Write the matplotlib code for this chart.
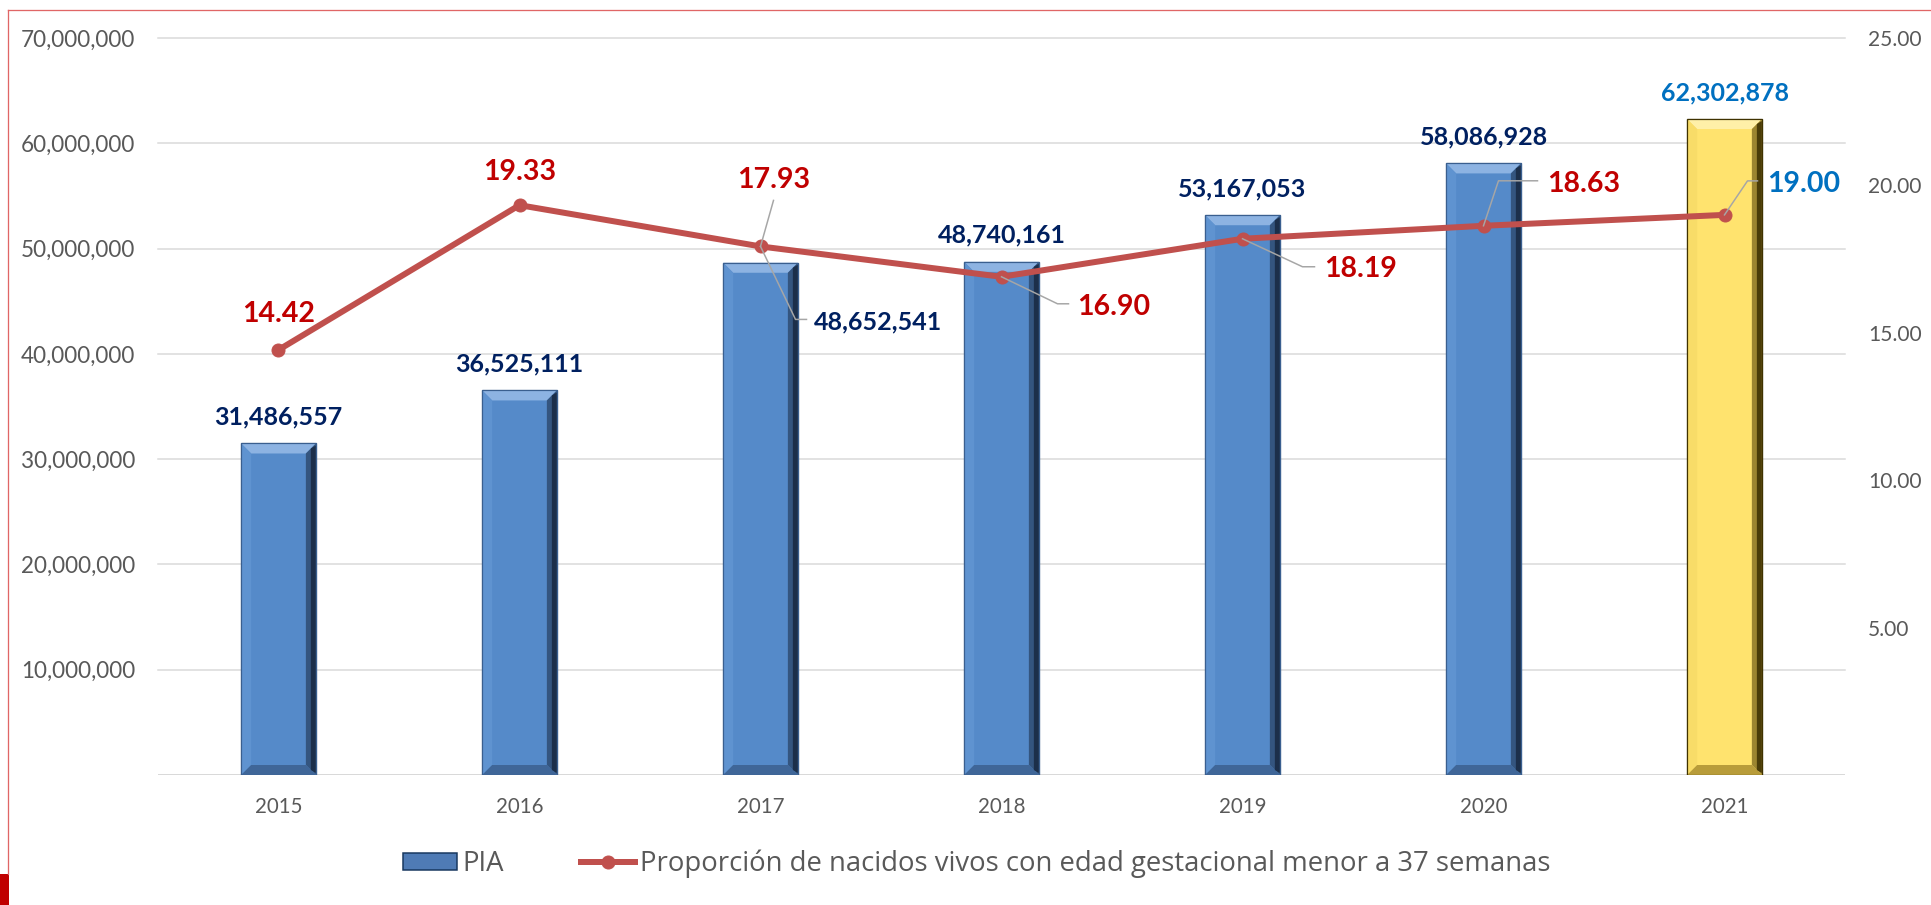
import numpy as np
import matplotlib.pyplot as plt
from matplotlib.patches import Polygon, Rectangle
from matplotlib.lines import Line2D
from matplotlib.transforms import IdentityTransform

plt.rcParams['font.family'] = ['Lato', 'DejaVu Sans']

years = ['2015', '2016', '2017', '2018', '2019', '2020', '2021']
pia = [31486557, 36525111, 48652541, 48740161, 53167053, 58086928, 62302878]
prop = [14.42, 19.33, 17.93, 16.90, 18.19, 18.63, 19.00]

W, H, DPI = 1931, 905, 72  # at 72 dpi, 1 pt == 1 px
fig = plt.figure(figsize=(W / DPI, H / DPI), dpi=DPI)
ax = fig.add_axes([158 / W, 130 / H, 1687 / W, 737 / H])

x = np.arange(len(years))
face = ['#558AC9'] * 6 + ['#FFE36E']
edge = ['#3A5F8F'] * 6 + ['#3F3200']
bars = ax.bar(x, pia, width=0.31, color=face, edgecolor=edge, linewidth=1.2, zorder=2)

ax.set_xlim(-0.5, 6.5)
ax.set_ylim(0, 70e6)
ax.set_yticks(np.arange(1e7, 7.1e7, 1e7))
ax.yaxis.set_major_formatter(lambda v, p: f'{v:,.0f}')
ax.set_xticks(x, years)
ax.grid(axis='y', color='#D9D9D9', lw=1.5, clip_on=False)
ax.set_axisbelow(True)
ax.axhline(0, color='#D9D9D9', lw=2, zorder=1)
for s in ax.spines.values():
    s.set_visible(False)
ax.tick_params(axis='y', length=0, pad=23, labelsize=22.5, labelcolor='#595959')
ax.tick_params(axis='x', length=0, pad=22, labelsize=20.5, labelcolor='#595959')

# bevel look on the bars (pixel space)
px = IdentityTransform()
for b, kind in zip(bars, ['blue'] * 6 + ['gold']):
    x0, y0 = ax.transData.transform((b.get_x(), 0))
    x1, y1 = ax.transData.transform((b.get_x() + b.get_width(), b.get_height()))
    d = 10
    if kind == 'blue':
        top, left, right, right2, bot = '#8DB3E2', '#5F93D0', '#34557F', '#1C2F4A', '#3F6698'
        ec = '#3A5F8F'
    else:
        top, left, right, right2, bot = '#FFF0A8', '#F8DC68', '#9C8530', '#4A3C08', '#B89C3A'
        ec = '#3F3200'
    ax.add_patch(Polygon([(x0, y1), (x1, y1), (x1 - d, y1 - d), (x0 + d, y1 - d)],
                         transform=px, color=top, lw=0, zorder=2.1))
    ax.add_patch(Polygon([(x0, y0), (x0, y1), (x0 + d, y1 - d), (x0 + d, y0 + d)],
                         transform=px, color=left, lw=0, zorder=2.1))
    ax.add_patch(Polygon([(x1, y0), (x1, y1), (x1 - d, y1 - d), (x1 - d, y0 + d)],
                         transform=px, color=right, lw=0, zorder=2.1))
    ax.add_patch(Polygon([(x1, y0 + 2), (x1, y1 - 2), (x1 - d / 2, y1 - d / 2), (x1 - d / 2, y0 + d / 2)],
                         transform=px, color=right2, lw=0, zorder=2.15))
    ax.add_patch(Polygon([(x0, y0), (x1, y0), (x1 - d, y0 + d), (x0 + d, y0 + d)],
                         transform=px, color=bot, lw=0, zorder=2.1))
    ax.add_patch(Rectangle((x0, y0), x1 - x0, y1 - y0, transform=px, fill=False,
                           ec=ec, lw=1.2, zorder=2.2))

ax2 = ax.twinx()
ax2.set_ylim(0, 25)
ax2.set_yticks([5, 10, 15, 20, 25])
ax2.yaxis.set_major_formatter(lambda v, p: f'{v:.2f}')
for s in ax2.spines.values():
    s.set_visible(False)
ax2.tick_params(axis='y', length=0, pad=23, labelsize=21, labelcolor='#595959')
ax2.plot(x, prop, color='#C0504D', lw=6, marker='o', ms=13, zorder=3)

# bar value labels (baseline offset above bar top, px)
bar_lab_col = ['#002060'] * 6 + ['#0070C0']
for i, v in enumerate(pia):
    if i == 2:
        continue
    ax2.annotate(f'{v:,}', xy=(i, v * 25 / 70e6), xytext=(0, 19), textcoords='offset points',
                 ha='center', va='baseline', fontsize=25, fontweight='bold', color=bar_lab_col[i])

# line value labels (baseline offset from marker, px); leader points as in the original
line_col = ['#C00000'] * 6 + ['#0070C0']
line_lab = [
    ((0, 28), 'center', None),
    ((0, 25), 'center', None),
    ((13, 58), 'center', [(0, 0), (13, 46)]),
    ((76, -38), 'left', [(0, 0), (56, -27), (67, -27)]),
    ((82, -38), 'left', [(0, 0), (60, -28), (72, -28)]),
    ((64, 34), 'left', [(0, 0), (15, 45), (54, 45)]),
    ((43, 23), 'left', [(0, 0), (23, 34), (33, 34)]),
]


def leader(mx, my, pts):
    xs = [mx + p[0] for p in pts]
    ys = [my + p[1] for p in pts]
    ax2.add_line(Line2D(xs, ys, transform=px, color='#A6A6A6', lw=1.5, zorder=3.5))


for i, v in enumerate(prop):
    off, ha, pts = line_lab[i]
    ax2.annotate(f'{v:.2f}', xy=(i, v), xytext=off, textcoords='offset points',
                 ha=ha, va='baseline', fontsize=28.5, fontweight='bold', color=line_col[i], zorder=5)
    if pts:
        mx, my = ax2.transData.transform((i, v))
        leader(mx, my, pts)

# 2017 bar label sits below-right of the marker
mx, my = ax2.transData.transform((2, prop[2]))
leader(mx, my, [(0, 0), (35, -73), (46, -73)])
ax2.annotate(f'{pia[2]:,}', xy=(2, prop[2]), xytext=(53, -83), textcoords='offset points',
             ha='left', va='baseline', fontsize=25, fontweight='bold', color='#002060')

handles = [Rectangle((0, 0), 1, 1, fc='#4F7BB5', ec='#17375E', lw=1.5),
           Line2D([], [], color='#C0504D', lw=6, marker='o', ms=13)]
labels = ['PIA', 'Proporción de nacidos vivos con edad gestacional menor a 37 semanas']
fig.legend(handles, labels, loc='center', bbox_to_anchor=(977 / W, 41 / H), ncol=2,
           frameon=False, prop={'family': ['Open Sans', 'DejaVu Sans'], 'size': 27.5},
           handlelength=1.95, handleheight=0.6, handletextpad=0.2, columnspacing=2.8,
           labelcolor='#595959')

# thin red frame and corner block
fig.add_artist(Line2D([8 / W, 1], [1 - 10 / H] * 2, transform=fig.transFigure, color='#E06666', lw=1.3))
fig.add_artist(Line2D([8 / W, 8 / W], [1 - 10 / H, 31 / H], transform=fig.transFigure, color='#E06666', lw=1.3))
fig.add_artist(Rectangle((0, 0), 9 / W, 31 / H, transform=fig.transFigure, color='#C00000', lw=0))

fig.savefig('out.png', dpi=DPI)
